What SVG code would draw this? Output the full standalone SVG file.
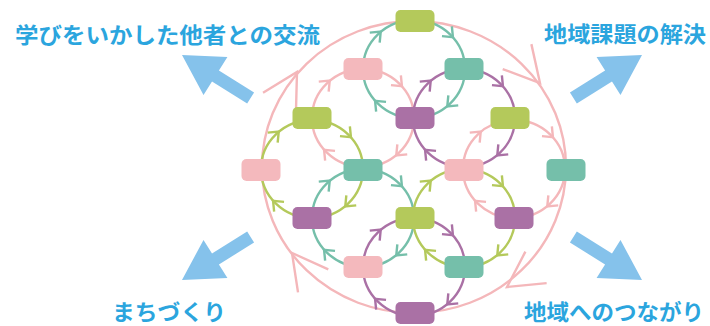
<svg xmlns="http://www.w3.org/2000/svg" xmlns:xlink="http://www.w3.org/1999/xlink" width="710" height="326" viewBox="0 0 710 326">
<style>
.lbl{font-family:"Noto Sans CJK JP","Noto Sans",sans-serif;font-weight:700;font-size:22px;fill:#2ba5de}
.ring{fill:none;stroke-width:2.4}
.big{fill:none;stroke:#f4b7ba;stroke-width:2.4}
.pk{fill:#f4b9bd}.gr{fill:#b4c95b}.tl{fill:#75bfaa}.pu{fill:#aa71a5}
.spk{stroke:#f4b7ba}.sgr{stroke:#b4c95b}.stl{stroke:#75bfaa}.spu{stroke:#aa71a5}
.barrow{fill:#85c2eb}
</style>
<defs>
<path id="chev" d="M-4.5,-7 L4,0 L-4.5,7" fill="none" stroke-width="2.4" stroke-linejoin="miter"/>
<path id="bchev" d="M-35,-19 L0,0 L-35,19" fill="none" stroke="#f4b7ba" stroke-width="2.4"/>
<polygon id="barr" points="0,0 -39.5,-22.5 -39.5,-6.5 -81,-6.5 -81,6.5 -39.5,6.5 -39.5,22.5"/>
<rect id="nd" x="-19.5" y="-11" width="39" height="22" rx="5"/>
</defs>

<g id="labels">
<text class="lbl" x="15" y="43" textLength="305" lengthAdjust="spacingAndGlyphs">学びをいかした他者との交流</text>
<text class="lbl" x="544" y="42" textLength="162" lengthAdjust="spacingAndGlyphs">地域課題の解決</text>
<text class="lbl" x="112" y="320" textLength="114" lengthAdjust="spacingAndGlyphs">まちづくり</text>
<text class="lbl" x="524" y="320" textLength="180" lengthAdjust="spacingAndGlyphs">地域へのつながり</text>
</g>

<g id="block-arrows" class="barrow">
<use xlink:href="#barr" transform="translate(182,55) rotate(212.1)"/>
<use xlink:href="#barr" transform="translate(642,55) rotate(-32.1)"/>
<use xlink:href="#barr" transform="translate(182,280) rotate(147.9)"/>
<use xlink:href="#barr" transform="translate(642,280) rotate(32.1)"/>
</g>

<g id="connectors">
<ellipse class="big" cx="414" cy="167" rx="152" ry="146"/>
<use xlink:href="#bchev" transform="translate(540,83) rotate(49)"/>
<use xlink:href="#bchev" transform="translate(507,287) rotate(146)"/>
<use xlink:href="#bchev" transform="translate(292,253) rotate(232.8)"/>
<use xlink:href="#bchev" transform="translate(297,72) rotate(-60)"/>

<ellipse class="ring stl" cx="414" cy="69" rx="51" ry="49"/>
<ellipse class="ring spk" cx="363" cy="118" rx="51" ry="49"/>
<ellipse class="ring spu" cx="464" cy="118" rx="51" ry="49"/>
<ellipse class="ring sgr" cx="312" cy="169" rx="51" ry="49"/>
<ellipse class="ring spk" cx="514" cy="169" rx="51" ry="49"/>
<ellipse class="ring stl" cx="363" cy="218" rx="51" ry="49"/>
<ellipse class="ring sgr" cx="464" cy="218" rx="51" ry="49"/>
<ellipse class="ring spu" cx="414" cy="267" rx="51" ry="49"/>

<g class="stl">
<use xlink:href="#chev" transform="translate(450.1,34.4) rotate(45)"/>
<use xlink:href="#chev" transform="translate(450.1,103.6) rotate(135)"/>
<use xlink:href="#chev" transform="translate(377.9,103.6) rotate(225)"/>
<use xlink:href="#chev" transform="translate(377.9,34.4) rotate(315)"/>
<use xlink:href="#chev" transform="translate(399.1,183.4) rotate(45)"/>
<use xlink:href="#chev" transform="translate(399.1,252.6) rotate(135)"/>
<use xlink:href="#chev" transform="translate(326.9,252.6) rotate(225)"/>
<use xlink:href="#chev" transform="translate(326.9,183.4) rotate(315)"/>
</g>
<g class="spk">
<use xlink:href="#chev" transform="translate(399.1,83.4) rotate(45)"/>
<use xlink:href="#chev" transform="translate(399.1,152.6) rotate(135)"/>
<use xlink:href="#chev" transform="translate(326.9,152.6) rotate(225)"/>
<use xlink:href="#chev" transform="translate(326.9,83.4) rotate(315)"/>
<use xlink:href="#chev" transform="translate(550.1,134.4) rotate(45)"/>
<use xlink:href="#chev" transform="translate(550.1,203.6) rotate(135)"/>
<use xlink:href="#chev" transform="translate(477.9,203.6) rotate(225)"/>
<use xlink:href="#chev" transform="translate(477.9,134.4) rotate(315)"/>
</g>
<g class="spu">
<use xlink:href="#chev" transform="translate(500.1,83.4) rotate(45)"/>
<use xlink:href="#chev" transform="translate(500.1,152.6) rotate(135)"/>
<use xlink:href="#chev" transform="translate(427.9,152.6) rotate(225)"/>
<use xlink:href="#chev" transform="translate(427.9,83.4) rotate(315)"/>
<use xlink:href="#chev" transform="translate(450.1,232.4) rotate(45)"/>
<use xlink:href="#chev" transform="translate(450.1,301.6) rotate(135)"/>
<use xlink:href="#chev" transform="translate(377.9,301.6) rotate(225)"/>
<use xlink:href="#chev" transform="translate(377.9,232.4) rotate(315)"/>
</g>
<g class="sgr">
<use xlink:href="#chev" transform="translate(348.1,134.4) rotate(45)"/>
<use xlink:href="#chev" transform="translate(348.1,203.6) rotate(135)"/>
<use xlink:href="#chev" transform="translate(275.9,203.6) rotate(225)"/>
<use xlink:href="#chev" transform="translate(275.9,134.4) rotate(315)"/>
<use xlink:href="#chev" transform="translate(500.1,183.4) rotate(45)"/>
<use xlink:href="#chev" transform="translate(500.1,252.6) rotate(135)"/>
<use xlink:href="#chev" transform="translate(427.9,252.6) rotate(225)"/>
<use xlink:href="#chev" transform="translate(427.9,183.4) rotate(315)"/>
</g>
</g>

<g id="node-1" class="gr"><use xlink:href="#nd" transform="translate(415,21)"/></g>
<g id="node-2" class="pk"><use xlink:href="#nd" transform="translate(363,69)"/></g>
<g id="node-3" class="tl"><use xlink:href="#nd" transform="translate(464,69)"/></g>
<g id="node-4" class="gr"><use xlink:href="#nd" transform="translate(312,118)"/></g>
<g id="node-5" class="pu"><use xlink:href="#nd" transform="translate(415,118)"/></g>
<g id="node-6" class="gr"><use xlink:href="#nd" transform="translate(510,118)"/></g>
<g id="node-7" class="pk"><use xlink:href="#nd" transform="translate(261,170)"/></g>
<g id="node-8" class="tl"><use xlink:href="#nd" transform="translate(363,170)"/></g>
<g id="node-9" class="pk"><use xlink:href="#nd" transform="translate(464,170)"/></g>
<g id="node-10" class="tl"><use xlink:href="#nd" transform="translate(566,170)"/></g>
<g id="node-11" class="pu"><use xlink:href="#nd" transform="translate(312,218)"/></g>
<g id="node-12" class="gr"><use xlink:href="#nd" transform="translate(415,218)"/></g>
<g id="node-13" class="pu"><use xlink:href="#nd" transform="translate(514,218)"/></g>
<g id="node-14" class="pk"><use xlink:href="#nd" transform="translate(363,267)"/></g>
<g id="node-15" class="tl"><use xlink:href="#nd" transform="translate(464,267)"/></g>
<g id="node-16" class="pu"><use xlink:href="#nd" transform="translate(415,313)"/></g>
</svg>
